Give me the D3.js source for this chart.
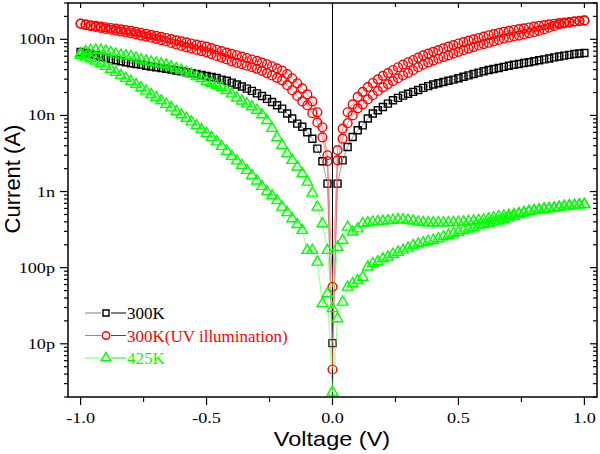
<!DOCTYPE html>
<html><head><meta charset="utf-8">
<script src="https://cdn.jsdelivr.net/npm/d3@7/dist/d3.min.js"></script>
<style>body{margin:0;background:#fff}svg{display:block}</style>
</head><body>
<svg id="chart" width="600" height="454"></svg>
<script>
// Voltage sweep grid (V), 0.02 V step
const voltage = d3.range(101).map(i => Math.round((-1 + i * 0.02) * 100) / 100);

// Currents in nA (index matches voltage)
const black300K = [
  68, 66, 64, 62, 59, 57, 55, 53, 51.5, 50,
  48.5, 47.5, 46.5, 45, 44, 43, 42, 41, 40, 39,
  38, 37, 36, 35, 34, 33, 32, 31, 29.5, 28.5,
  27, 25.5, 24, 22.5, 21, 19.5, 18, 16.5, 15, 13.6,
  12.3, 10.6, 9.1, 7.8, 7.1, 6.0, 4.95, 3.66, 2.5, 1.27,
  0.0102,
  1.27, 2.57, 3.85, 5.2, 6.4, 7.4, 9.1, 10.6, 11.7, 12.9,
  14.3, 15.8, 17.0, 18.2, 19.3, 20.4, 21.6, 23.0, 24.3, 25.5,
  26.5, 27.5, 28.5, 29.5, 30.8, 32.2, 33.6, 35, 36.5, 38,
  39.5, 40.8, 42, 43.5, 45, 46.3, 47.5, 48.8, 50, 51.5,
  53, 54.5, 56, 58, 59.5, 61, 62.5, 64, 65, 66
];
const redUV_sweep1 = [
  161, 157, 153, 150, 147, 144, 141, 138, 135, 132,
  129, 125.5, 122, 118, 114.5, 111, 107.5, 104, 100.5, 97,
  94, 91, 88, 85, 82.5, 80, 76.5, 73, 70, 67,
  64.5, 61.8, 59.3, 56.8, 54.3, 52, 49.5, 47, 44.3, 41.6,
  39, 35, 30.8, 26.5, 22.7, 18.9, 15.3, 11, 7.0, 3.0,
  0.056,
  3.5, 6.7, 11.0, 14.0, 17.5, 20.4, 23.6, 26.7, 29.8, 33.1,
  36, 39.5, 43, 46.5, 50, 53.5, 57.5, 61.5, 65, 68.5,
  72, 76, 80, 84, 88, 92, 96, 100, 104, 108.5,
  113, 117, 121, 125, 129, 132.5, 136, 139.5, 143, 146.5,
  150, 153.5, 157, 160, 163, 166, 169, 172, 175, 177
];
const redUV_sweep2 = [
  160, 154, 149, 145, 141, 137, 133.5, 130, 126.5, 123,
  120, 116, 112, 108.5, 105, 101.5, 97.5, 93.5, 89.5, 85.5,
  82, 78.5, 75.5, 72.5, 70, 67.5, 64, 60.5, 57.5, 54.5,
  51.4, 49, 47, 45, 43, 41, 38.5, 36, 33.5, 31.2,
  28.9, 25, 21.4, 18, 15.3, 13.6, 10.7, 8.1, 5.15, 2.5,
  0.0046,
  2.57, 4.95, 7.9, 10.0, 12.4, 14.0, 16.2, 18.4, 21, 23.4,
  25.8, 28.3, 30.8, 33.5, 36.2, 39.2, 43, 46.5, 49.5, 52.5,
  55.5, 58.5, 61.5, 65, 68.5, 72, 75.5, 79, 83, 86.5,
  90, 94, 98, 102, 105.5, 109, 112, 116, 120, 124,
  129, 135, 142, 150, 157, 162, 166, 170, 173, 176
];
const green425K_sweep1 = [
  65, 69, 71.5, 72.5, 72, 70, 67, 64, 62, 61,
  59.8, 57, 54, 52, 50.5, 49, 47.5, 46, 43.5, 41.2,
  39.2, 37, 35, 32.5, 30.5, 28, 26.5, 25, 23.3, 21.3,
  19.2, 17, 15.5, 14.2, 13, 11.7, 10.2, 8.6, 6.76, 5.1,
  4.05, 3.15, 2.57, 2.1, 1.72, 1.33, 0.955, 0.625, 0.378, 0.169,
  0.029,
  0.186, 0.228, 0.341, 0.294, 0.324, 0.38, 0.39, 0.398, 0.405, 0.409,
  0.415, 0.42, 0.427, 0.425, 0.419, 0.41, 0.398, 0.392, 0.389, 0.389,
  0.389, 0.389, 0.389, 0.391, 0.394, 0.398, 0.403, 0.41, 0.417, 0.425,
  0.437, 0.452, 0.466, 0.478, 0.49, 0.50, 0.515, 0.53, 0.55, 0.565,
  0.575, 0.59, 0.60, 0.61, 0.625, 0.64, 0.65, 0.66, 0.67, 0.68
];
const green425K_sweep2 = [
  61.6, 58.5, 55.5, 52, 48.4, 44.2, 40.4, 36.8, 33.6, 30.7,
  28.1, 25.5, 23.1, 20.9, 18.9, 17.2, 15.6, 14.0, 12.6, 11.3,
  10.2, 9.2, 8.24, 7.35, 6.56, 5.8, 5.15, 4.5, 3.93, 3.38,
  2.9, 2.53, 2.21, 1.9, 1.63, 1.38, 1.17, 1.0, 0.88, 0.76,
  0.625, 0.53, 0.44, 0.37, 0.309, 0.169, 0.169, 0.1186, 0.0337, 0.0455,
  0.00232,
  0.0214, 0.0353, 0.0556, 0.0617, 0.068, 0.075, 0.102, 0.113, 0.12, 0.131,
  0.138, 0.150, 0.160, 0.170, 0.181, 0.196, 0.205, 0.213, 0.222, 0.23,
  0.24, 0.255, 0.267, 0.28, 0.292, 0.308, 0.322, 0.337, 0.355, 0.37,
  0.383, 0.397, 0.41, 0.43, 0.45, 0.475, 0.50, 0.525, 0.545, 0.56,
  0.573, 0.585, 0.597, 0.61, 0.62, 0.635, 0.645, 0.655, 0.665, 0.675
];

const seriesNames = ["300K", "300K(UV illumination)", "425K"];
const xTickValues = [-1, -0.5, 0, 0.5, 1];
const xTickLabels = ["-1.0", "-0.5", "0.0", "0.5", "1.0"];
const xMinorTicks = [-0.75, -0.25, 0.25, 0.75];
const yTickValues = [1e-11, 1e-10, 1e-9, 1e-8, 1e-7];
const yTickLabels = ["10p", "100p", "1n", "10n", "100n"];
const xTitle = "Voltage (V)";
const yTitle = "Current (A)";

const series = [
  { name: seriesNames[0], color: "#000000", line: "#7a7a7a", shape: d3.symbolSquare, size: 49, sweeps: [black300K] },
  { name: seriesNames[1], color: "#ff0000", line: "#ff5a5a", shape: d3.symbolCircle, size: 60, sweeps: [redUV_sweep1, redUV_sweep2] },
  { name: seriesNames[2], color: "#00ff00", line: "#66ff66", shape: d3.symbolTriangle, size: 48, sweeps: [green425K_sweep1, green425K_sweep2] }
];

const L = 68, R = 597, T = 3, B = 397;
const x = d3.scaleLinear().domain([-1.05, 1.05]).range([L, R]);
const y = d3.scaleLog().domain([2e-12, 3e-7]).range([B, T]);

const svg = d3.select("#chart");
const serif = "'Liberation Serif','Times New Roman',serif";
const sans = "'Liberation Sans',Arial,sans-serif";

// minor log ticks
const yMinor = [];
for (let e = -12; e <= -7; e++) for (let m = 2; m <= 9; m++) {
  const v = m * Math.pow(10, e);
  if (v >= 2e-12 && v <= 3e-7) yMinor.push(v);
}

const ax = svg.append("g").attr("stroke", "#000").attr("stroke-width", 1.2);
// bottom (outward)
xTickValues.forEach(v => ax.append("line").attr("x1", x(v)).attr("x2", x(v)).attr("y1", B).attr("y2", B + 8));
xMinorTicks.forEach(v => ax.append("line").attr("x1", x(v)).attr("x2", x(v)).attr("y1", B).attr("y2", B + 5));
// top (inward)
xTickValues.forEach(v => ax.append("line").attr("x1", x(v)).attr("x2", x(v)).attr("y1", T).attr("y2", T + 5));
xMinorTicks.forEach(v => ax.append("line").attr("x1", x(v)).attr("x2", x(v)).attr("y1", T).attr("y2", T + 4));
// left (outward)
yTickValues.forEach(v => ax.append("line").attr("x1", L - 8).attr("x2", L).attr("y1", y(v)).attr("y2", y(v)));
yMinor.forEach(v => ax.append("line").attr("x1", L - 4).attr("x2", L).attr("y1", y(v)).attr("y2", y(v)));
// right (inward)
yTickValues.forEach(v => ax.append("line").attr("x1", R - 7).attr("x2", R).attr("y1", y(v)).attr("y2", y(v)));
yMinor.forEach(v => ax.append("line").attr("x1", R - 4).attr("x2", R).attr("y1", y(v)).attr("y2", y(v)));

// tick labels (slightly wide serif)
xTickValues.forEach((v, i) => svg.append("text")
  .attr("transform", `translate(${x(v)},423) scale(1.3,1)`)
  .attr("text-anchor", "middle").attr("font-family", serif).attr("font-size", 14)
  .text(xTickLabels[i]));
yTickValues.forEach((v, i) => svg.append("text")
  .attr("transform", `translate(55,${y(v) + 5}) scale(1.3,1)`)
  .attr("text-anchor", "end").attr("font-family", serif).attr("font-size", 14)
  .text(yTickLabels[i]));

// axis titles
svg.append("text").attr("transform", "translate(332,446) scale(1.12,1)")
  .attr("text-anchor", "middle").attr("font-family", sans).attr("font-size", 21).text(xTitle);
svg.append("text").attr("transform", "translate(20,179) rotate(-90)")
  .attr("text-anchor", "middle").attr("font-family", sans).attr("font-size", 22).text(yTitle);

// zero-voltage line
svg.append("line").attr("x1", x(0)).attr("x2", x(0)).attr("y1", T).attr("y2", B)
  .attr("stroke", "#000").attr("stroke-width", 1);

// data
const plot = svg.append("g");
const lineGen = d3.line().x(d => x(d[0])).y(d => y(d[1] * 1e-9));
series.forEach(s => {
  const g = plot.append("g");
  s.sweeps.forEach(sw => {
    const pts = voltage.map((v, i) => [v, sw[i]]);
    g.append("path").attr("d", lineGen(pts)).attr("fill", "none")
      .attr("stroke", s.line).attr("stroke-width", 0.9).attr("stroke-opacity", 0.8);
  });
  const sym = d3.symbol().type(s.shape).size(s.size);
  s.sweeps.forEach(sw => {
    g.selectAll(null).data(voltage.map((v, i) => [v, sw[i]])).enter().append("path")
      .attr("d", sym)
      .attr("transform", d => `translate(${x(d[0])},${y(d[1] * 1e-9)})`)
      .attr("fill", "none").attr("stroke", s.color).attr("stroke-width", 1.4);
  });
});

// frame
svg.append("rect").attr("x", L).attr("y", T).attr("width", R - L).attr("height", B - T)
  .attr("fill", "none").attr("stroke", "#000").attr("stroke-width", 1.5);

// legend
const lg = svg.append("g");
const legendY = [313, 335.5, 358];
const legendSizes = [36, 44, 40];
series.forEach((s, i) => {
  const yy = legendY[i];
  lg.append("line").attr("x1", 85).attr("x2", 101).attr("y1", yy).attr("y2", yy)
    .attr("stroke", s.line).attr("stroke-width", 1);
  lg.append("line").attr("x1", 111).attr("x2", 126).attr("y1", yy).attr("y2", yy)
    .attr("stroke", s.color).attr("stroke-width", 1);
  lg.append("path").attr("d", d3.symbol().type(s.shape).size(legendSizes[i]))
    .attr("transform", `translate(106,${yy})`).attr("fill", "none")
    .attr("stroke", s.color).attr("stroke-width", 1.4);
  lg.append("text").attr("x", 127).attr("y", yy + 6).attr("font-family", serif)
    .attr("font-size", 17).attr("fill", s.color).text(s.name);
});
</script>
</body></html>
